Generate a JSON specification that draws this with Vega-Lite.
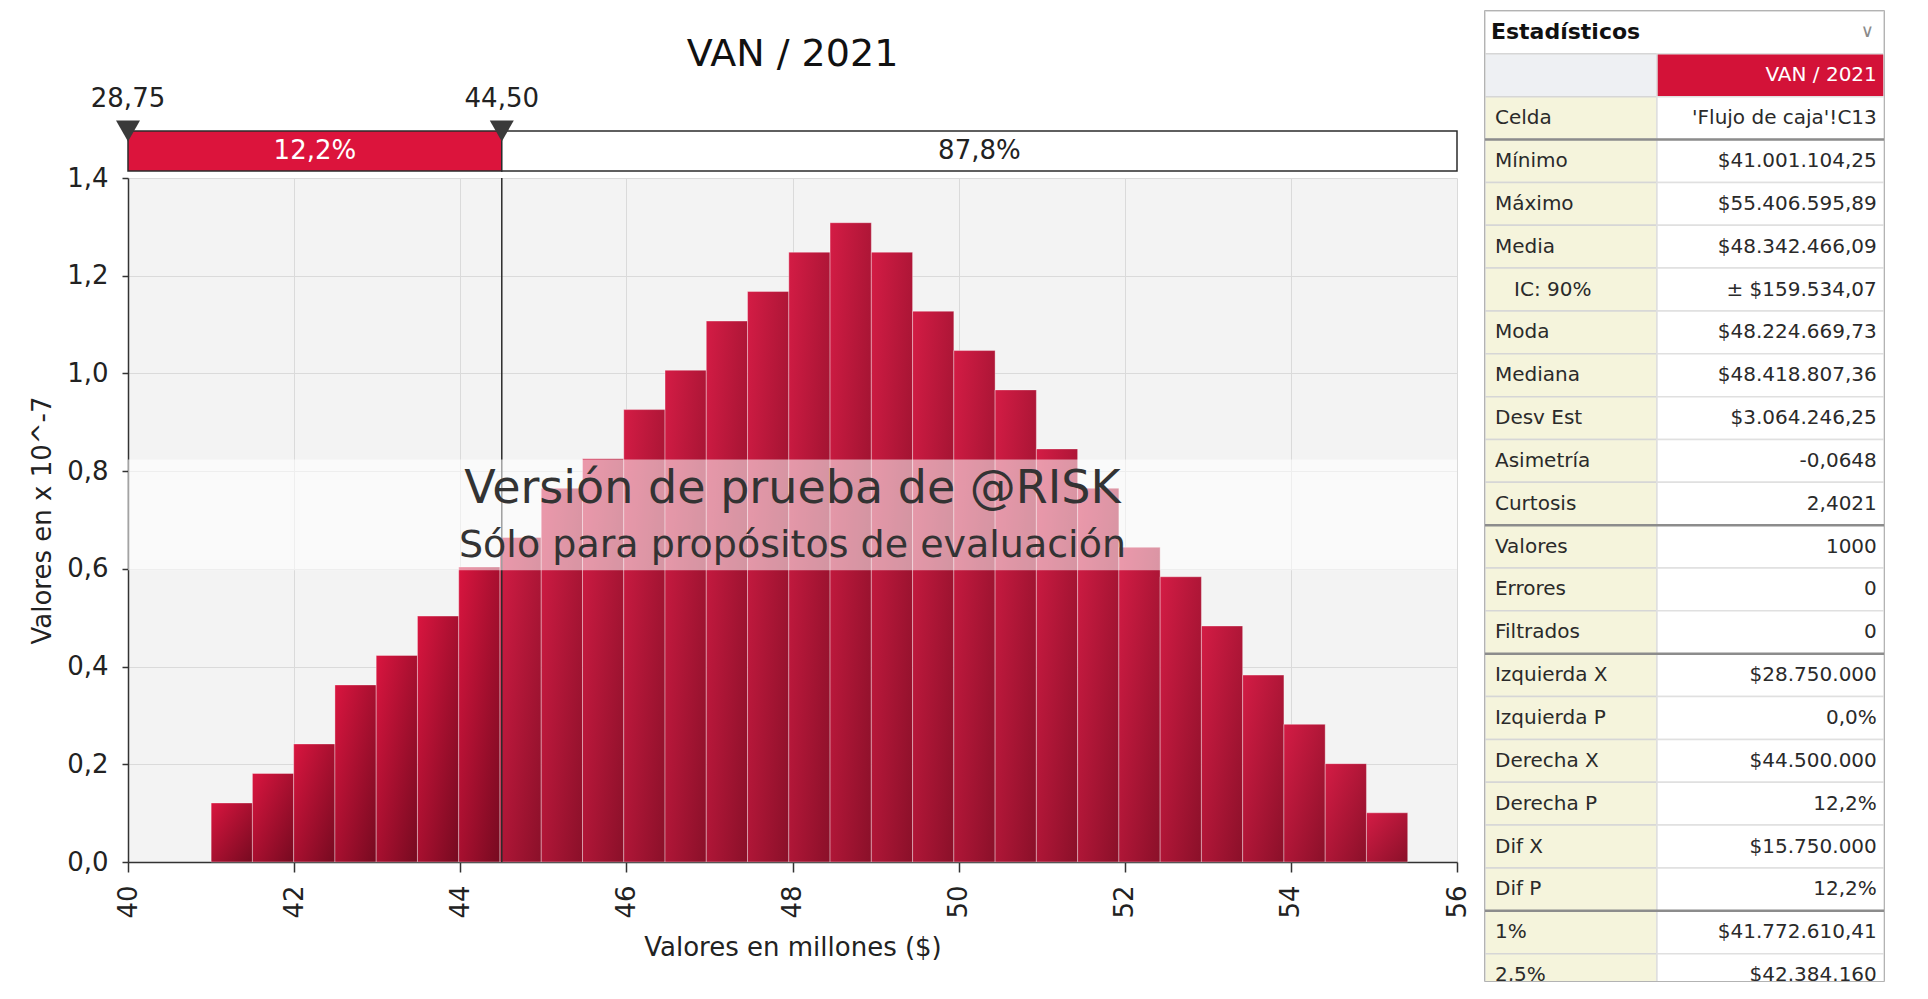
{
  "$schema": "https://vega.github.io/schema/vega-lite/v6.json",
  "background": "#ffffff",
  "padding": {"left": 29, "top": 10, "right": 5, "bottom": 5},
  "config": {
    "font": "DejaVu Sans",
    "view": {"stroke": null},
    "axis": {"labelFont": "DejaVu Sans", "titleFont": "DejaVu Sans"}
  },
  "datasets": {
    "histograma": [
      {"desde": 41.0011, "hasta": 41.4978, "densidad": 0.1208},
      {"desde": 41.4978, "hasta": 41.9946, "densidad": 0.1812},
      {"desde": 41.9946, "hasta": 42.4913, "densidad": 0.2416},
      {"desde": 42.4913, "hasta": 42.9881, "densidad": 0.3624},
      {"desde": 42.9881, "hasta": 43.4848, "densidad": 0.4228},
      {"desde": 43.4848, "hasta": 43.9815, "densidad": 0.5033},
      {"desde": 43.9815, "hasta": 44.4783, "densidad": 0.6039},
      {"desde": 44.4783, "hasta": 44.9750, "densidad": 0.6643},
      {"desde": 44.9750, "hasta": 45.4718, "densidad": 0.7650},
      {"desde": 45.4718, "hasta": 45.9685, "densidad": 0.8254},
      {"desde": 45.9685, "hasta": 46.4653, "densidad": 0.9260},
      {"desde": 46.4653, "hasta": 46.9620, "densidad": 1.0066},
      {"desde": 46.9620, "hasta": 47.4587, "densidad": 1.1072},
      {"desde": 47.4587, "hasta": 47.9555, "densidad": 1.1676},
      {"desde": 47.9555, "hasta": 48.4522, "densidad": 1.2481},
      {"desde": 48.4522, "hasta": 48.9490, "densidad": 1.3085},
      {"desde": 48.9490, "hasta": 49.4457, "densidad": 1.2481},
      {"desde": 49.4457, "hasta": 49.9424, "densidad": 1.1273},
      {"desde": 49.9424, "hasta": 50.4392, "densidad": 1.0468},
      {"desde": 50.4392, "hasta": 50.9359, "densidad": 0.9663},
      {"desde": 50.9359, "hasta": 51.4327, "densidad": 0.8455},
      {"desde": 51.4327, "hasta": 51.9294, "densidad": 0.7650},
      {"desde": 51.9294, "hasta": 52.4261, "densidad": 0.6442},
      {"desde": 52.4261, "hasta": 52.9229, "densidad": 0.5838},
      {"desde": 52.9229, "hasta": 53.4196, "densidad": 0.4831},
      {"desde": 53.4196, "hasta": 53.9164, "densidad": 0.3825},
      {"desde": 53.9164, "hasta": 54.4131, "densidad": 0.2818},
      {"desde": 54.4131, "hasta": 54.9098, "densidad": 0.2013},
      {"desde": 54.9098, "hasta": 55.4066, "densidad": 0.1007}
    ],
    "delimitadores": [
      {"valor": 28.75, "etiqueta": "28,75"},
      {"valor": 44.5, "etiqueta": "44,50"}
    ],
    "regiones": [
      {"desde": 28.75, "hasta": 44.5, "probabilidad": "12,2%"},
      {"desde": 44.5, "hasta": 56, "probabilidad": "87,8%"}
    ],
    "titulo": [{"texto": "VAN / 2021"}],
    "marca_agua": [{"linea1": "Versión de prueba de @RISK", "linea2": "Sólo para propósitos de evaluación"}],
    "estadisticos": [
      {"seccion": "titulo", "estadistico": "Estadísticos", "valor": "∨"},
      {"seccion": "encabezado", "estadistico": " ", "valor": "VAN / 2021"},
      {"seccion": "celda", "estadistico": "Celda", "valor": "'Flujo de caja'!C13"},
      {"seccion": "resumen", "estadistico": "Mínimo", "valor": "$41.001.104,25"},
      {"seccion": "resumen", "estadistico": "Máximo", "valor": "$55.406.595,89"},
      {"seccion": "resumen", "estadistico": "Media", "valor": "$48.342.466,09"},
      {"seccion": "resumen", "estadistico": "\u200b\u00a0\u00a0\u00a0IC: 90%", "valor": "± $159.534,07"},
      {"seccion": "resumen", "estadistico": "Moda", "valor": "$48.224.669,73"},
      {"seccion": "resumen", "estadistico": "Mediana", "valor": "$48.418.807,36"},
      {"seccion": "resumen", "estadistico": "Desv Est", "valor": "$3.064.246,25"},
      {"seccion": "resumen", "estadistico": "Asimetría", "valor": "-0,0648"},
      {"seccion": "resumen", "estadistico": "Curtosis", "valor": "2,4021"},
      {"seccion": "datos", "estadistico": "Valores", "valor": "1000"},
      {"seccion": "datos", "estadistico": "Errores", "valor": "0"},
      {"seccion": "datos", "estadistico": "Filtrados", "valor": "0"},
      {"seccion": "delimitadores", "estadistico": "Izquierda X", "valor": "$28.750.000"},
      {"seccion": "delimitadores", "estadistico": "Izquierda P", "valor": "0,0%"},
      {"seccion": "delimitadores", "estadistico": "Derecha X", "valor": "$44.500.000"},
      {"seccion": "delimitadores", "estadistico": "Derecha P", "valor": "12,2%"},
      {"seccion": "delimitadores", "estadistico": "Dif X", "valor": "$15.750.000"},
      {"seccion": "delimitadores", "estadistico": "Dif P", "valor": "12,2%"},
      {"seccion": "percentiles", "estadistico": "1%", "valor": "$41.772.610,41"},
      {"seccion": "percentiles", "estadistico": "2,5%", "valor": "$42.384.160"}
    ]
  },
  "spacing": 13,
  "resolve": {"scale": {"x": "independent", "y": "independent"}},
  "hconcat": [
    {
      "spacing": 7,
      "bounds": "flush",
      "resolve": {"scale": {"x": "independent", "y": "independent"}},
      "vconcat": [
        {
          "width": 1329,
          "height": 160,
          "layer": [
            {
              "data": {"name": "regiones"},
              "mark": {"type": "rect", "stroke": "#2b2b2b", "strokeWidth": 1.5},
              "encoding": {
                "x": {"field": "desde", "type": "quantitative", "scale": {"domain": [40, 56], "nice": false, "zero": false, "clamp": true}, "axis": null},
                "x2": {"field": "hasta"},
                "y": {"datum": 0, "type": "quantitative", "scale": {"domain": [0, 4], "nice": false, "zero": false}, "axis": null},
                "y2": {"datum": 1},
                "fill": {"condition": {"test": "datum.desde < 44.5", "value": "#dc143c"}, "value": "#ffffff"}
              }
            },
            {
              "data": {"name": "regiones"},
              "transform": [{"filter": "datum.desde < 44.5"}],
              "mark": {"type": "text", "fontSize": 26, "color": "#ffffff", "baseline": "middle"},
              "encoding": {
                "x": {"datum": 42.25, "type": "quantitative"},
                "y": {"datum": 0.5, "type": "quantitative"},
                "text": {"field": "probabilidad"}
              }
            },
            {
              "data": {"name": "regiones"},
              "transform": [{"filter": "datum.desde >= 44.5"}],
              "mark": {"type": "text", "fontSize": 26, "color": "#222222", "baseline": "middle"},
              "encoding": {
                "x": {"datum": 50.25, "type": "quantitative"},
                "y": {"datum": 0.5, "type": "quantitative"},
                "text": {"field": "probabilidad"}
              }
            },
            {
              "data": {"name": "delimitadores"},
              "mark": {"type": "point", "shape": "triangle-down", "filled": true, "size": 576, "color": "#3a3a3a", "opacity": 1},
              "encoding": {
                "x": {"field": "valor", "type": "quantitative"},
                "y": {"datum": 1.0, "type": "quantitative"}
              }
            },
            {
              "data": {"name": "delimitadores"},
              "mark": {"type": "text", "fontSize": 26, "color": "#222222", "baseline": "middle"},
              "encoding": {
                "x": {"field": "valor", "type": "quantitative"},
                "y": {"datum": 1.8, "type": "quantitative"},
                "text": {"field": "etiqueta"}
              }
            },
            {
              "data": {"name": "titulo"},
              "mark": {"type": "text", "fontSize": 38, "color": "#111111", "baseline": "middle"},
              "encoding": {
                "x": {"datum": 48, "type": "quantitative"},
                "y": {"datum": 2.9, "type": "quantitative"},
                "text": {"field": "texto"}
              }
            }
          ]
        },
        {
          "width": 1329,
          "height": 684,
          "view": {"fill": "#f3f3f3", "stroke": null},
          "layer": [
            {
              "data": {"name": "histograma"},
              "mark": {"type": "rect", "stroke": "#ffffff", "strokeOpacity": 0.35, "strokeWidth": 1},
              "encoding": {
                "x": {
                  "field": "desde", "type": "quantitative",
                  "scale": {"domain": [40, 56], "nice": false, "zero": false},
                  "axis": {
                    "values": [40, 42, 44, 46, 48, 50, 52, 54, 56],
                    "format": "d",
                    "title": "Valores en millones ($)", "titleFontSize": 26, "titleFontWeight": "normal", "titleColor": "#222222", "titlePadding": 16,
                    "labelFontSize": 26, "labelColor": "#222222", "labelAngle": -90, "labelPadding": 13, "labelOverlap": false, "labelFlush": false, "labelBound": false,
                    "tickSize": 10, "tickColor": "#333333", "tickWidth": 1.5,
                    "domainColor": "#333333", "domainWidth": 1.5,
                    "grid": true, "gridColor": "#dadada", "gridWidth": 1
                  }
                },
                "x2": {"field": "hasta"},
                "y": {
                  "field": "densidad", "type": "quantitative",
                  "scale": {"domain": [0, 1.4], "nice": false, "zero": true},
                  "axis": {
                    "values": [0, 0.2, 0.4, 0.6, 0.8, 1, 1.2, 1.4],
                    "labelExpr": "replace(format(datum.value, '.1f'), '.', ',')",
                    "title": "Valores en x 10^-7", "titleFontSize": 26, "titleFontWeight": "normal", "titleColor": "#222222", "titlePadding": 11,
                    "labelFontSize": 26, "labelColor": "#222222", "labelPadding": 14, "labelOverlap": false, "labelFlush": false, "labelBound": false,
                    "tickSize": 6, "tickColor": "#333333", "tickWidth": 1.5,
                    "domainColor": "#333333", "domainWidth": 1.5,
                    "grid": true, "gridColor": "#dadada", "gridWidth": 1
                  }
                },
                "fill": {
                  "condition": {
                    "test": "datum.hasta <= 44.5",
                    "value": {"gradient": "linear", "x1": 0, "y1": 0, "x2": 1, "y2": 1, "stops": [{"offset": 0, "color": "#d9153f"}, {"offset": 1, "color": "#760a20"}]}
                  },
                  "value": {"gradient": "linear", "x1": 0, "y1": 0, "x2": 1, "y2": 1, "stops": [{"offset": 0, "color": "#d41c45"}, {"offset": 1, "color": "#8a1029"}]}
                }
              }
            },
            {
              "data": {"name": "delimitadores"},
              "transform": [{"filter": "datum.valor >= 40"}],
              "mark": {"type": "rule", "color": "#2b2b2b", "strokeWidth": 1.5},
              "encoding": {"x": {"field": "valor", "type": "quantitative"}}
            },
            {
              "data": {"name": "marca_agua"},
              "mark": {"type": "rect", "fill": "#ffffff", "opacity": 0.55},
              "encoding": {
                "y": {"datum": 0.597, "type": "quantitative"},
                "y2": {"datum": 0.824}
              }
            },
            {
              "data": {"name": "marca_agua"},
              "mark": {"type": "text", "fontSize": 46, "color": "#333333", "baseline": "middle"},
              "encoding": {
                "x": {"datum": 48, "type": "quantitative"},
                "y": {"datum": 0.763, "type": "quantitative"},
                "text": {"field": "linea1"}
              }
            },
            {
              "data": {"name": "marca_agua"},
              "mark": {"type": "text", "fontSize": 38, "color": "#333333", "baseline": "middle"},
              "encoding": {
                "x": {"datum": 48, "type": "quantitative"},
                "y": {"datum": 0.647, "type": "quantitative"},
                "text": {"field": "linea2"}
              }
            }
          ]
        }
      ]
    },
    {
      "width": 399,
      "height": 970,
      "data": {"name": "estadisticos"},
      "view": {"stroke": "#9a9a9a", "strokeWidth": 1.5},
      "encoding": {
        "y": {"field": "estadistico", "type": "nominal", "sort": null, "scale": {"type": "band", "range": [0, 985.5], "paddingInner": 0, "paddingOuter": 0}, "axis": null}
      },
      "layer": [
        {
          "transform": [{"filter": "datum.seccion === 'titulo'"}],
          "mark": {"type": "rect", "fill": "#ffffff", "stroke": "#d4d4d4", "strokeWidth": 1.5, "clip": true},
          "encoding": {
            "x": {"datum": 0, "type": "quantitative", "scale": {"domain": [0, 1], "nice": false, "zero": false}, "axis": null},
            "x2": {"datum": 1}
          }
        },
        {
          "transform": [{"filter": "datum.seccion !== 'titulo'"}],
          "mark": {"type": "rect", "stroke": "#d6d6d6", "strokeWidth": 1.5, "clip": true},
          "encoding": {
            "x": {"datum": 0, "type": "quantitative"},
            "x2": {"datum": 0.431},
            "fill": {"condition": {"test": "datum.seccion === 'encabezado'", "value": "#eef0f3"}, "value": "#f5f4dc"}
          }
        },
        {
          "transform": [{"filter": "datum.seccion !== 'titulo'"}],
          "mark": {"type": "rect", "stroke": "#e0e0e0", "strokeWidth": 1.5, "clip": true},
          "encoding": {
            "x": {"datum": 0.431, "type": "quantitative"},
            "x2": {"datum": 1},
            "fill": {"condition": {"test": "datum.seccion === 'encabezado'", "value": "#d31238"}, "value": "#ffffff"}
          }
        },
        {
          "transform": [{"filter": {"field": "estadistico", "oneOf": ["Mínimo", "Valores", "Izquierda X", "1%"]}}],
          "mark": {"type": "rule", "color": "#8c8c8c", "strokeWidth": 2.5},
          "encoding": {
            "y": {"field": "estadistico", "type": "nominal", "sort": null, "bandPosition": 0}
          }
        },
        {
          "transform": [{"filter": "datum.seccion === 'titulo'"}],
          "mark": {"type": "text", "align": "left", "baseline": "middle", "fontSize": 22, "fontWeight": "bold", "color": "#111111"},
          "encoding": {
            "x": {"datum": 0.015, "type": "quantitative"},
            "text": {"field": "estadistico"}
          }
        },
        {
          "transform": [{"filter": "datum.seccion === 'titulo'"}],
          "mark": {"type": "text", "align": "right", "baseline": "middle", "fontSize": 18, "color": "#8a8a8a"},
          "encoding": {
            "x": {"datum": 0.975, "type": "quantitative"},
            "text": {"field": "valor"}
          }
        },
        {
          "transform": [{"filter": "datum.seccion !== 'titulo'"}],
          "mark": {"type": "text", "align": "left", "baseline": "middle", "fontSize": 20, "color": "#2a2a2a", "clip": true},
          "encoding": {
            "x": {"datum": 0.025, "type": "quantitative"},
            "text": {"field": "estadistico"}
          }
        },
        {
          "transform": [{"filter": "datum.seccion !== 'titulo'"}],
          "mark": {"type": "text", "align": "right", "baseline": "middle", "fontSize": 20, "clip": true},
          "encoding": {
            "x": {"datum": 0.982, "type": "quantitative"},
            "text": {"field": "valor"},
            "color": {"condition": {"test": "datum.seccion === 'encabezado'", "value": "#ffffff"}, "value": "#2a2a2a"}
          }
        }
      ]
    }
  ]
}
